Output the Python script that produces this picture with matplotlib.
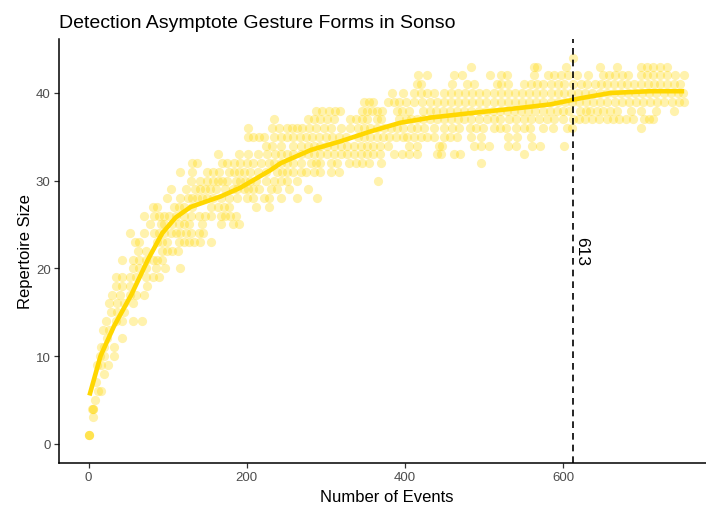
import matplotlib
matplotlib.use("Agg")
import matplotlib.pyplot as plt

# ---- data: repertoire size (y) -> number of events (x) at which points appear ----
row_01 = [1, 1, 1]
row_03 = [6]
row_04 = [4, 5, 5]
row_05 = [8]
row_06 = [12, 16]
row_07 = [9]
row_08 = [20]
row_09 = [11, 15, 25]
row_10 = [14, 20, 32]
row_11 = [15, 20, 32]
row_12 = [23, 42]
row_13 = [18, 26]
row_14 = [22, 34, 42, 56, 67]
row_15 = [28, 36, 45]
row_16 = [26, 36, 45, 56]
row_17 = [30, 40, 52, 60, 70]
row_18 = [34, 42, 52, 74]
row_19 = [34, 42, 52, 60, 72, 81, 89]
row_20 = [56, 64, 72, 85, 97, 116]
row_21 = [42, 56, 64, 72, 81, 87, 93]
row_22 = [62, 72, 93, 99, 106, 113]
row_23 = [58, 64, 87, 93, 99, 114, 121, 127, 133, 141, 155]
row_24 = [52, 70, 83, 89, 95, 104, 110, 116, 123, 129, 139, 145]
row_25 = [78, 91, 95, 106, 114, 121, 127, 143, 167, 182, 190]
row_26 = [70, 83, 89, 95, 102, 110, 121, 129, 139, 147, 155, 167, 173, 179, 186]
row_27 = [81, 87, 108, 114, 120, 131, 155, 163, 171, 177, 211, 228]
row_28 = [99, 116, 125, 131, 137, 143, 150, 157, 167, 177, 188, 200, 208, 222,
          228, 243, 264, 289]
row_29 = [104, 123, 135, 141, 147, 154, 161, 173, 182, 188, 196, 202, 208, 216,
          230, 238, 253, 277]
row_30 = [129, 141, 150, 157, 163, 169, 175, 186, 192, 198, 204, 212, 224, 234,
          243, 251, 263, 366]
row_31 = [116, 131, 150, 157, 165, 177, 184, 190, 196, 204, 214, 224, 238, 244,
          251, 259, 268, 275, 285, 293, 306, 317]
row_32 = [131, 137, 169, 175, 184, 192, 200, 208, 218, 228, 234, 243, 251, 259,
          268, 281, 287, 293, 306, 314, 329, 338, 346, 354, 370, 496]
row_33 = [163, 190, 202, 214, 226, 236, 243, 251, 259, 268, 277, 285, 293, 302,
          310, 319, 327, 335, 344, 352, 360, 368, 386, 396, 405, 415, 441, 445,
          462, 470, 550]
row_34 = [224, 232, 243, 259, 268, 277, 285, 293, 302, 310, 319, 327, 335, 344,
          352, 360, 368, 378, 405, 415, 443, 447, 487, 496, 506, 530, 540, 561,
          571, 601]
row_35 = [201, 208, 216, 222, 234, 243, 251, 259, 267, 275, 283, 291, 300, 308,
          316, 325, 340, 348, 356, 364, 372, 380, 388, 398, 403, 411, 420, 428,
          437, 449, 457, 466, 483, 496, 530, 542, 559]
row_36 = [201, 232, 241, 251, 257, 263, 270, 279, 287, 297, 306, 319, 331, 340,
          348, 356, 364, 373, 382, 390, 398, 407, 415, 424, 437, 449, 460, 468,
          482, 490, 499, 512, 520, 528, 540, 550, 558, 575, 587, 605, 611, 698]
row_37 = [234, 277, 285, 293, 302, 310, 331, 338, 346, 352, 364, 370, 392, 401,
          407, 415, 423, 431, 441, 449, 458, 467, 475, 484, 493, 504, 512, 520,
          531, 540, 550, 559, 569, 579, 589, 600, 612, 620, 628, 637, 645, 655,
          663, 671, 679, 688, 702, 708, 714]
row_38 = [287, 295, 304, 312, 318, 346, 352, 358, 364, 371, 390, 396, 405, 423,
          431, 439, 448, 457, 466, 475, 484, 493, 502, 511, 520, 529, 538, 547,
          556, 565, 574, 583, 592, 600, 607, 621, 629, 634, 643, 651, 659, 668,
          686, 698, 717, 740]
row_39 = [348, 354, 360, 378, 386, 392, 401, 411, 421, 431, 440, 449, 458, 467,
          476, 485, 494, 503, 512, 521, 530, 539, 548, 557, 566, 575, 584, 593,
          602, 611, 620, 629, 638, 647, 656, 665, 674, 683, 692, 701, 710, 719,
          728, 737, 746, 753]
row_40 = [384, 398, 411, 420, 428, 437, 449, 458, 467, 476, 485, 494, 503, 512,
          521, 530, 539, 548, 557, 566, 575, 584, 593, 601, 610, 619, 628, 637,
          646, 655, 664, 673, 682, 691, 700, 709, 718, 727, 736, 745, 752]
row_41 = [415, 420, 460, 479, 487, 516, 522, 530, 551, 559, 567, 575, 584, 593,
          601, 612, 622, 630, 640, 648, 656, 664, 673, 681, 689, 699, 707, 715,
          723, 731, 740, 748]
row_42 = [417, 428, 462, 472, 508, 522, 529, 563, 581, 589, 597, 606, 617, 632,
          650, 658, 666, 674, 682, 698, 706, 714, 723, 731, 741, 753]
row_43 = [484, 563, 567, 603, 647, 668, 698, 706, 714, 723, 731]
row_44 = [613]

rows = [(1, row_01), (3, row_03), (4, row_04), (5, row_05), (6, row_06),
        (7, row_07), (8, row_08), (9, row_09), (10, row_10), (11, row_11),
        (12, row_12), (13, row_13), (14, row_14), (15, row_15), (16, row_16),
        (17, row_17), (18, row_18), (19, row_19), (20, row_20), (21, row_21),
        (22, row_22), (23, row_23), (24, row_24), (25, row_25), (26, row_26),
        (27, row_27), (28, row_28), (29, row_29), (30, row_30), (31, row_31),
        (32, row_32), (33, row_33), (34, row_34), (35, row_35), (36, row_36),
        (37, row_37), (38, row_38), (39, row_39), (40, row_40), (41, row_41),
        (42, row_42), (43, row_43), (44, row_44)]

# smoothed asymptote curve
curve_x = [1, 15, 32, 54, 75, 93, 110, 129, 148, 167, 192, 230, 243, 281, 319,
           356, 394, 433, 483, 546, 584, 622, 660, 710, 753]
curve_y = [5.5, 10, 13.4, 17, 21, 24, 25.8, 27, 27.6, 28.2, 29.2, 31.2, 32.0,
           33.5, 34.5, 35.6, 36.6, 37.2, 37.7, 38.3, 38.7, 39.4, 40.0, 40.2, 40.2]

asymptote = 613
x_ticks = [0, 200, 400, 600]
y_ticks = [0, 10, 20, 30, 40]

title = "Detection Asymptote Gesture Forms in Sonso"
x_label = "Number of Events"
y_label = "Repertoire Size"

# ---- figure ----
plt.rcParams['font.family'] = ['Liberation Sans', 'DejaVu Sans']
W, H = 706, 506
fig = plt.figure(figsize=(W / 100, H / 100), dpi=100)
ax = fig.add_axes([59 / W, (H - 464) / H, (715 - 59) / W, (464 - 39.6) / H])

xs, ys = [], []
for yv, xl in rows:
    for xv in xl:
        xs.append(xv)
        ys.append(yv)

gold = '#FFD700'
ax.scatter(xs, ys, s=44, color=gold, alpha=0.32, linewidths=0, zorder=2)
ax.plot(curve_x, curve_y, color=gold, lw=3.3, solid_capstyle='butt', zorder=3)

ax.axvline(asymptote, color='black', lw=1.2, linestyle=(0, (4, 3)), zorder=4)
ax.text(asymptote + 1, 22, str(asymptote), rotation=-90, fontsize=12.5,
        ha='left', va='center', color='black', zorder=5)

ax.set_xlim(-37.5, 792)
ax.set_ylim(-2.2, 46.2)
ax.set_xticks(x_ticks)
ax.set_yticks(y_ticks)

for s in ['top', 'right']:
    ax.spines[s].set_visible(False)
for s in ['left', 'bottom']:
    ax.spines[s].set_color('black')
    ax.spines[s].set_linewidth(1.1)

ax.tick_params(axis='both', length=3.5, width=0.9, color='#333333',
               labelcolor='#4D4D4D', labelsize=9.5, pad=2.5)

ax.set_title(title, loc='left', fontsize=14, pad=8, color='black')
ax.set_xlabel(x_label, fontsize=12, labelpad=4)
ax.set_ylabel(y_label, fontsize=12, labelpad=2)

fig.savefig('out.png', dpi=100)
